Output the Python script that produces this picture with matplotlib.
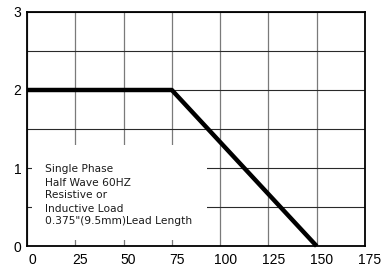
import matplotlib
matplotlib.use("Agg")
import matplotlib.pyplot as plt
import matplotlib.transforms as mtransforms
from matplotlib.patches import Rectangle

# Data
temps = [0, 75, 150]
current = [2, 2, 0]
x_ticks = [0, 25, 50, 75, 100, 125, 150, 175]
y_ticks = [0, 1, 2, 3]
note_lines = ["Single Phase", "Half Wave 60HZ", "Resistive or",
              "Inductive Load", "0.375\"(9.5mm)Lead Length"]

plt.rcParams['font.family'] = ['Liberation Sans', 'DejaVu Sans']

fig = plt.figure(figsize=(3.89, 2.66), dpi=100)
ax = fig.add_axes([0.0694, 0.075, 0.8686, 0.880])

ax.set_xlim(0, 175)
ax.set_ylim(0, 3)
ax.set_xticks(x_ticks)
ax.set_yticks(y_ticks)
ax.set_xticks([v + 12.5 for v in x_ticks[:-1]], minor=True)
ax.set_yticks([0.5, 1.5, 2.5], minor=True)
ax.tick_params(which='both', length=0)
ax.tick_params(axis='x', pad=5, labelsize=10)
ax.tick_params(axis='y', pad=4, labelsize=10)

ax.set_axisbelow(True)
ax.xaxis.grid(True, which='major', color='#7a7a7a', lw=0.9)
ax.yaxis.grid(True, which='both', color='#2a2a2a', lw=0.8)

for s in ax.spines.values():
    s.set_linewidth(1.3)
    s.set_color('black')

# shift x tick labels slightly right like the reference
offset = mtransforms.ScaledTranslation(5/100, 0, fig.dpi_scale_trans)
for lbl in ax.get_xticklabels():
    lbl.set_transform(lbl.get_transform() + offset)

ax.add_patch(Rectangle((2.6, 0.077), 90.4, 1.22, facecolor='white',
                       edgecolor='none', zorder=1))

ax.plot(temps, current, color='black', lw=3.2, solid_capstyle='butt', zorder=3, clip_on=False)

ys = [0.987, 0.81, 0.648, 0.48, 0.315]
for t, yv in zip(note_lines, ys):
    ax.text(9.5, yv, t, fontsize=7.7, color='#1a1a1a', va='center', ha='left',
            zorder=4, family=['DejaVu Sans'])

fig.savefig("out.png", dpi=100)
